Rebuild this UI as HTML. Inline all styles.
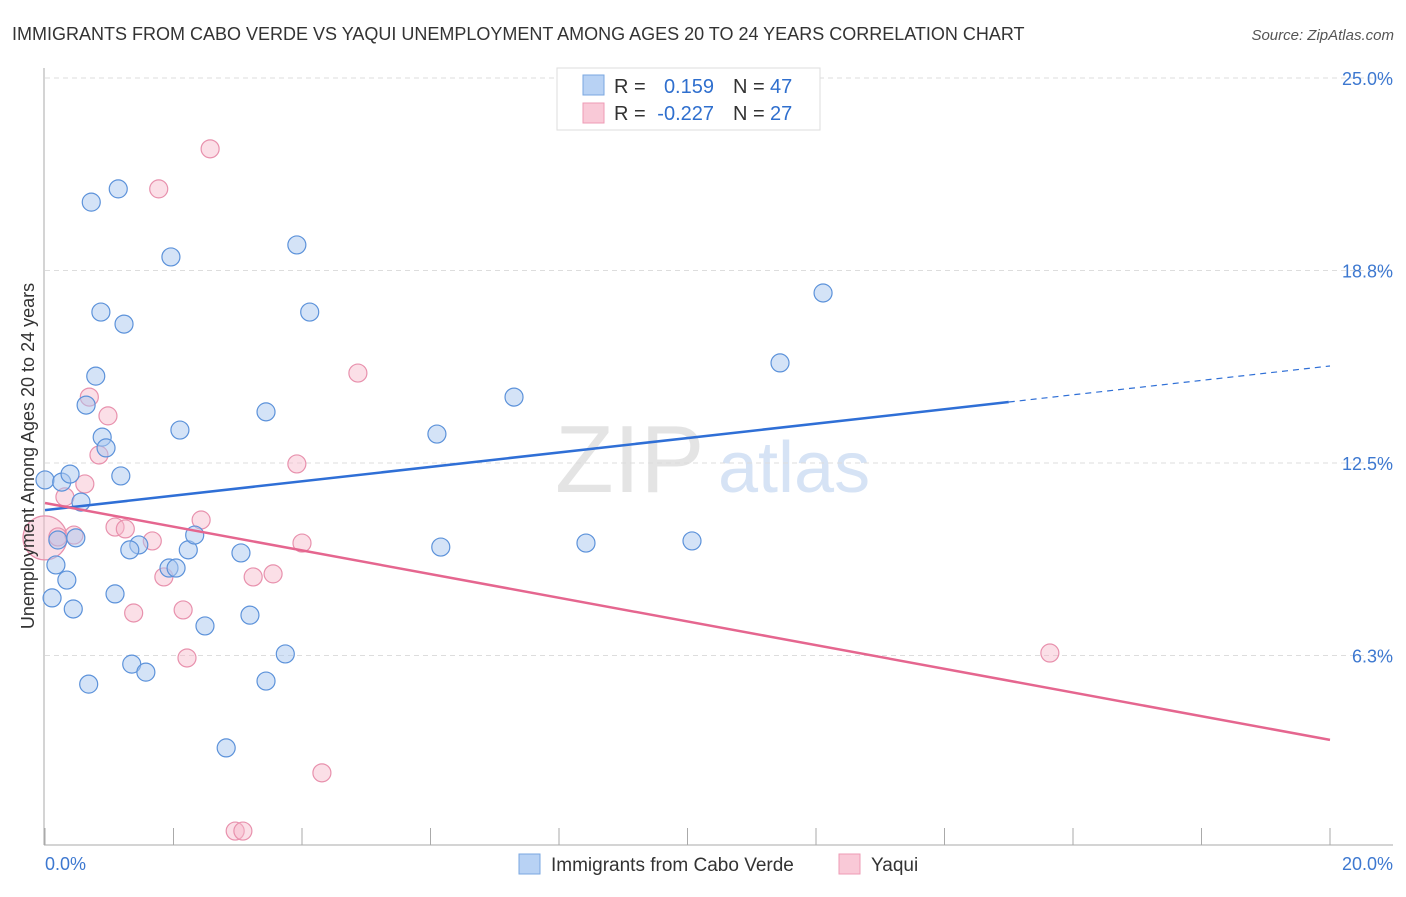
<!DOCTYPE html>
<html><head><meta charset="utf-8"><style>
body{margin:0;background:#fff;font-family:"Liberation Sans",sans-serif}
svg text{font-family:"Liberation Sans",sans-serif}
</style></head><body>
<svg id="c" width="1406" height="892">
<text x="12" y="40" font-size="18" fill="#333">IMMIGRANTS FROM CABO VERDE VS YAQUI UNEMPLOYMENT AMONG AGES 20 TO 24 YEARS CORRELATION CHART</text>
<text x="1394" y="40" font-size="15" fill="#555" font-style="italic" text-anchor="end">Source: ZipAtlas.com</text>
<text x="555" y="492" font-size="96" fill="#e4e4e4" font-family="Liberation Serif">ZIP</text>
<text x="718" y="492" font-size="72" fill="#d6e3f5">atlas</text>
<g id="grid"></g><g id="axes"></g><g id="pts"></g><g id="lines"></g>
<text transform="translate(34,456) rotate(-90)" font-size="18" fill="#333" text-anchor="middle">Unemployment Among Ages 20 to 24 years</text>
<g>
<rect x="557" y="68" width="263" height="62" fill="#fff" stroke="#ddd"/>
<rect x="583" y="75" width="21" height="20" fill="#b8d2f4" stroke="#7aa7e0"/>
<rect x="583" y="103" width="21" height="20" fill="#f9c9d7" stroke="#ee9bb5"/>
<text x="614" y="93" font-size="20" fill="#333">R =</text><text x="714" y="93" font-size="20" fill="#2f6fce" text-anchor="end">0.159</text>
<text x="733" y="93" font-size="20" fill="#333">N =</text><text x="770" y="93" font-size="20" fill="#2f6fce">47</text>
<text x="614" y="120" font-size="20" fill="#333">R =</text><text x="714" y="120" font-size="20" fill="#2f6fce" text-anchor="end">-0.227</text>
<text x="733" y="120" font-size="20" fill="#333">N =</text><text x="770" y="120" font-size="20" fill="#2f6fce">27</text>
</g>
<g>
<rect x="519" y="854" width="21" height="20" fill="#b8d2f4" stroke="#7aa7e0"/>
<text x="551" y="871" font-size="19" fill="#333">Immigrants from Cabo Verde</text>
<rect x="839" y="854" width="21" height="20" fill="#f9c9d7" stroke="#ee9bb5"/>
<text x="871" y="871" font-size="19" fill="#333">Yaqui</text>
</g>
</svg>
<script>
const yTicks=[25,18.75,12.5,6.25];
const yTickLabels=["25.0%","18.8%","12.5%","6.3%"];
const xTickLabels=["0.0%","20.0%"];
const blueX=[0,0.26,0.39,0.56,0.2,0.48,0.17,0.34,0.11,0.44,0.72,1.14,0.87,1.23,1.96,0.79,0.64,0.89,0.95,1.18,2.1,3.44,3.92,4.12,1.46,1.32,1.09,1.93,2.04,2.23,2.33,3.05,3.19,2.49,1.35,1.57,0.68,3.44,3.74,2.82,6.1,6.16,7.3,8.42,10.07,11.44,12.11];
const blueY=[11.95,11.88,12.14,11.23,10.0,10.07,9.19,8.7,8.12,7.76,20.97,21.4,17.4,17.01,19.19,15.32,14.38,13.34,12.99,12.08,13.57,14.16,19.58,17.4,9.84,9.68,8.25,9.09,9.09,9.68,10.16,9.58,7.56,7.21,5.97,5.71,5.32,5.42,6.3,3.25,13.44,9.77,14.64,9.9,9.97,15.75,18.02];
const pinkX=[0,0.2,0.45,0.31,0.62,0.69,0.98,0.84,1.09,1.25,1.67,1.85,1.38,2.15,2.43,2.21,1.77,2.57,3.24,3.55,3.92,4.0,4.87,4.31,2.96,3.08,15.64];
const pinkY=[10.07,10.1,10.16,11.4,11.82,14.64,14.03,12.76,10.42,10.36,9.97,8.8,7.63,7.73,10.65,6.17,21.4,22.7,8.8,8.9,12.47,9.9,15.42,2.44,0.55,0.55,6.33];
const blueTrend=[10.97,15.65]; // y at x=0 and x=20
const pinkTrend=[11.2,3.51];
const blueSolidEnd=15.0;
const X=v=>45+v/20*1285, Y=v=>848-v/6.25*192.5;
const NS="http://www.w3.org/2000/svg";
function mk(tag,parent,attrs){const e=document.createElementNS(NS,tag);for(const k in attrs)e.setAttribute(k,attrs[k]);document.getElementById(parent).appendChild(e);return e;}
yTicks.forEach((t,i)=>{
 const l=mk('line','grid',{x1:45,x2:1393,y1:Y(t),y2:Y(t),stroke:'#ddd','stroke-dasharray':'5,4'});
 
 
 const tx=mk('text','grid',{x:1393,y:Y(t)+7,'font-size':18,fill:'#3d78d0','text-anchor':'end'});
 tx.textContent=yTickLabels[i];
 
 
});
const ax=mk('line','axes',{x1:44,x2:44,y1:68,y2:845,stroke:'#aaa'});


const bx=mk('line','axes',{x1:44,x2:1393,y1:845,y2:845,stroke:'#aaa'});


for(let i=0;i<=10;i++){const t=mk('line','axes',{x1:X(i*2),x2:X(i*2),y1:828,y2:845,stroke:'#aaa'});
 
 }
[[0,'start',45],[20,'end',1393]].forEach((a,i)=>{const t=mk('text','axes',{x:a[2],y:870,'font-size':18,fill:'#3d78d0','text-anchor':a[1]});t.textContent=xTickLabels[i];
 
 });
pinkX.forEach((x,i)=>{const c=mk('circle','pts',{cx:X(x),cy:Y(pinkY[i]),r:i==0?22:9,fill:'#f6b8ca','fill-opacity':0.45,stroke:'#e891ad','stroke-width':1.2});
 
 });
blueX.forEach((x,i)=>{const c=mk('circle','pts',{cx:X(x),cy:Y(blueY[i]),r:9,fill:'#a9c8f0','fill-opacity':0.5,stroke:'#5c92da','stroke-width':1.2});
 
 });
const bt=x=>blueTrend[0]+(blueTrend[1]-blueTrend[0])*x/20;
const l1=mk('line','lines',{x1:X(0),y1:Y(bt(0)),x2:X(blueSolidEnd),y2:Y(bt(blueSolidEnd)),stroke:'#2f6fd6','stroke-width':2.5});


const l2=mk('line','lines',{x1:X(blueSolidEnd),y1:Y(bt(blueSolidEnd)),x2:X(20),y2:Y(bt(20)),stroke:'#2f6fd6','stroke-width':1.2,'stroke-dasharray':'6,5'});


const l3=mk('line','lines',{x1:X(0),y1:Y(pinkTrend[0]),x2:X(20),y2:Y(pinkTrend[1]),stroke:'#e5668f','stroke-width':2.5});


</script>
</body></html>
